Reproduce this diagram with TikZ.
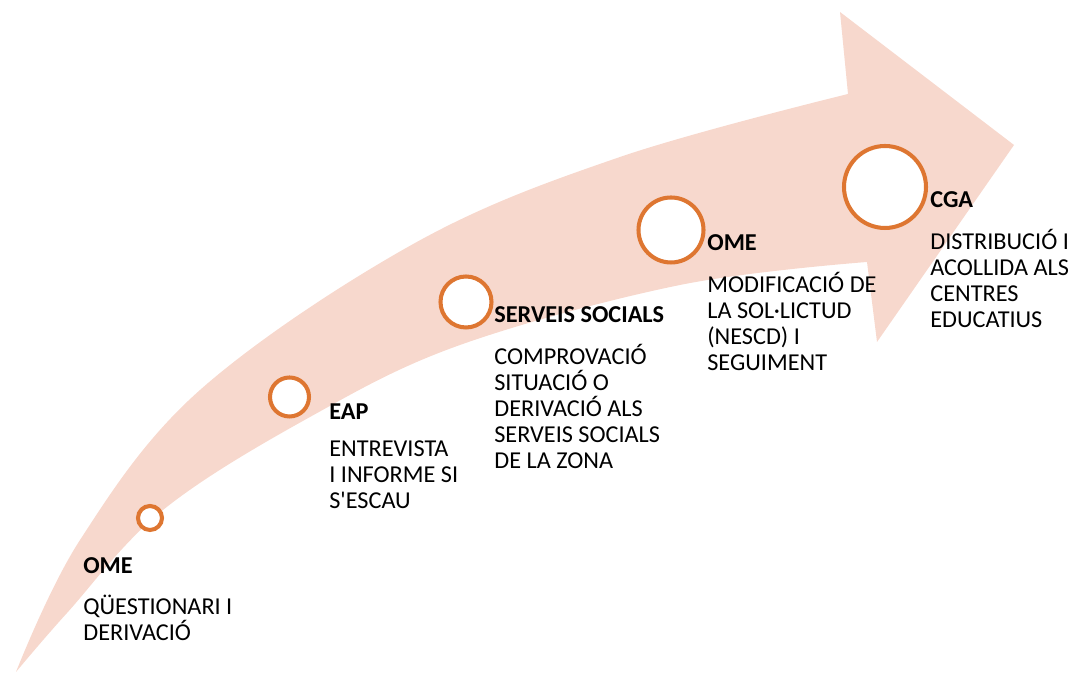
\documentclass[tikz,border=0pt]{standalone}
\usepackage{fontspec}
\setmainfont{Carlito}
\usepackage{xcolor}
\usepackage{tikz}
\usetikzlibrary{calc}
\definecolor{band}{HTML}{F7D8CD}
\definecolor{ring}{HTML}{DE7631}
\definecolor{ink}{HTML}{000000}
\tikzset{
  stage/.style={circle, draw=ring, fill=white, line width=2.3pt, inner sep=0pt},
  who/.style={text=ink, font=\fontsize{13.8}{14.8}\selectfont\bfseries, inner sep=0pt, anchor=west},
  what/.style={text=ink, font=\fontsize{13.8}{14.8}\selectfont, inner sep=0pt, anchor=north west,
    align=left, execute at begin node=\strut},
}

\begin{document}
\begin{tikzpicture}
  \useasboundingbox (0,0) rectangle (21.44,13.46);
  % curved arrow
  \fill[band] plot[smooth, tension=0.6] coordinates {(0.32,0.02) (1.6,2.66) (4.0,5.66) (8.3,8.6) (12.4,10.32) (16.96,11.58)}
    -- (16.8,13.22) -- (20.28,10.56) -- (17.54,6.62)
    -- plot[smooth, tension=0.6] coordinates {(17.34,8.22) (13.6,7.76) (9.2,6.56) (6.2,5.12) (3.26,3.26) (1.34,1.2) (0.32,0.02)}
    -- cycle;
  % stages
  \node[stage, minimum size=0.48cm] (c1) at (3.0,3.1) {};
  \node[stage, minimum size=0.78cm] (c2) at (5.79,5.52) {};
  \node[stage, minimum size=1.02cm] (c3) at (9.32,7.42) {};
  \node[stage, minimum size=1.30cm] (c4) at (13.42,8.86) {};
  \node[stage, minimum size=1.64cm] (c5) at (17.7,9.72) {};
  % who
  \node[who] (t1) at (1.66,2.14) {OME};
  \node[who] (t2) at (6.58,5.22) {EAP};
  \node[who] (t3) at (9.88,7.16) {SERVEIS SOCIALS};
  \node[who] (t4) at (14.14,8.6) {OME};
  \node[who] (t5) at (18.6,9.46) {CGA};
  % what
  \node[what] (d1) at ($(t1.west)+(0,-0.57)$) {QÜESTIONARI I\\DERIVACIÓ};
  \node[what] (d2) at ($(t2.west)+(0,-0.57)$) {ENTREVISTA\\I INFORME SI\\S\textquotesingle ESCAU};
  \node[what] (d3) at ($(t3.west)+(0,-0.57)$) {COMPROVACIÓ\\SITUACIÓ O\\DERIVACIÓ ALS\\SERVEIS SOCIALS\\DE LA ZONA};
  \node[what] (d4) at ($(t4.west)+(0,-0.57)$) {MODIFICACIÓ DE\\LA SOL·LICTUD\\(NESCD) I\\SEGUIMENT};
  \node[what] (d5) at ($(t5.west)+(0,-0.57)$) {DISTRIBUCIÓ I\\ACOLLIDA ALS\\CENTRES\\EDUCATIUS};
\end{tikzpicture}
\end{document}
